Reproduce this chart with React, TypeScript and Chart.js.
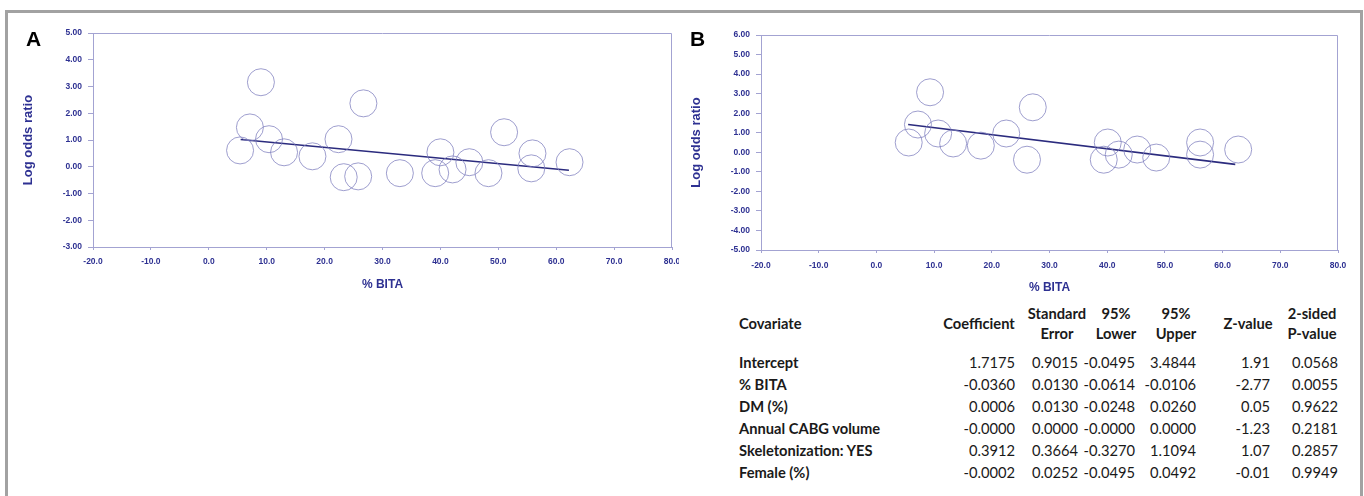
import React, { useEffect, useRef } from "react";
import { Chart, registerables } from "chart.js";

Chart.register(...registerables);

// ---------- DATA ----------
const bitaA = [5.4, 9.0, 7.1, 10.4, 13.0, 17.9, 22.4, 23.3, 25.8, 26.7, 33.0, 39.1, 40.0, 42.1, 45.0, 48.3, 51.0, 55.9, 55.7, 62.3];
const logOrA = [0.61, 3.16, 1.47, 1.03, 0.54, 0.39, 1.03, -0.39, -0.36, 2.37, -0.24, -0.24, 0.54, -0.1, 0.17, -0.24, 1.29, 0.5, -0.06, 0.17];
const fitAX = [5.5, 62.2];
const fitAY = [1.02, -0.13];

const bitaB = [5.6, 9.3, 7.2, 10.7, 13.3, 18.1, 22.5, 27.1, 26.1, 40.1, 39.4, 42.0, 45.2, 48.5, 56.1, 56.1, 62.7];
const logOrB = [0.5, 3.07, 1.42, 0.96, 0.45, 0.34, 0.96, 2.3, -0.38, 0.5, -0.38, -0.12, 0.14, -0.27, 0.5, -0.12, 0.14];
const fitBX = [5.5, 62.2];
const fitBY = [1.42, -0.62];

const xTicks = [-20, -10, 0, 10, 20, 30, 40, 50, 60, 70, 80];
const yTicksA = [-3, -2, -1, 0, 1, 2, 3, 4, 5];
const yTicksB = [-5, -4, -3, -2, -1, 0, 1, 2, 3, 4, 5, 6];

const xTitle = "% BITA";
const yTitle = "Log odds ratio";

const headerLines = [["Coefficient"], ["Standard", "Error"], ["95%", "Lower"], ["95%", "Upper"], ["Z-value"], ["2-sided", "P-value"]];
const covariates = ["Intercept", "% BITA", "DM (%)", "Annual CABG volume", "Skeletonization: YES", "Female (%)"];
const coefficient = ["1.7175", "-0.0360", "0.0006", "-0.0000", "0.3912", "-0.0002"];
const stdError = ["0.9015", "0.0130", "0.0130", "0.0000", "0.3664", "0.0252"];
const lower95 = ["-0.0495", "-0.0614", "-0.0248", "-0.0000", "-0.3270", "-0.0495"];
const upper95 = ["3.4844", "-0.0106", "0.0260", "0.0000", "1.1094", "0.0492"];
const zValue = ["1.91", "-2.77", "0.05", "-1.23", "1.07", "-0.01"];
const pValue = ["0.0568", "0.0055", "0.9622", "0.2181", "0.2857", "0.9949"];

// ---------- STYLE ----------
const AXIS = "#a3a3d2";
const TICK = "#2e3192";
const BUBBLE = "rgba(125,125,190,0.75)";
const FIT = "#2b2b7e";
const FONT = "'Liberation Sans', Arial, sans-serif";

const boxPlugin = {
  id: "plotBox",
  afterDraw(chart: any) {
    const { ctx, chartArea: a } = chart;
    ctx.save();
    ctx.strokeStyle = AXIS;
    ctx.lineWidth = 1;
    ctx.beginPath();
    ctx.moveTo(Math.round(a.left) + 0.5, Math.round(a.top) + 0.5);
    ctx.lineTo(Math.round(a.right) - 0.5, Math.round(a.top) + 0.5);
    ctx.lineTo(Math.round(a.right) - 0.5, Math.round(a.bottom) + 0.5);
    ctx.stroke();
    ctx.restore();
  },
};

type PanelCfg = {
  bx: number[];
  by: number[];
  fx: number[];
  fy: number[];
  yTicks: number[];
  width: number;
  height: number;
  area: { left: number; top: number; right: number; bottom: number };
  yTitlePad: number;
  xTitlePad: number;
  xLabelPad: number;
};

function Panel(p: PanelCfg) {
  const ref = useRef<HTMLCanvasElement>(null);
  useEffect(() => {
    if (!ref.current) return;
    const yMin = Math.min(...p.yTicks);
    const yMax = Math.max(...p.yTicks);
    const chart = new Chart(ref.current, {
      type: "scatter",
      data: {
        datasets: [
          {
            label: "studies",
            data: p.bx.map((x, i) => ({ x, y: p.by[i] })),
            pointRadius: 13.5,
            pointHoverRadius: 13.5,
            pointBackgroundColor: "rgba(0,0,0,0)",
            pointBorderColor: BUBBLE,
            pointBorderWidth: 1,
            showLine: false,
          },
          {
            label: "fit",
            data: p.fx.map((x, i) => ({ x, y: p.fy[i] })),
            showLine: true,
            borderColor: FIT,
            borderWidth: 1.6,
            pointRadius: 0,
          },
        ],
      },
      options: {
        animation: false,
        responsive: false,
        events: [],
        layout: {
          padding: {
            left: 0,
            top: p.area.top,
            right: p.width - p.area.right,
            bottom: 0,
          },
        },
        plugins: { legend: { display: false }, tooltip: { enabled: false } },
        scales: {
          x: {
            type: "linear",
            min: xTicks[0],
            max: xTicks[xTicks.length - 1],
            afterBuildTicks: (s: any) => {
              s.ticks = xTicks.map((v) => ({ value: v }));
            },
            afterFit: (s: any) => {
              s.height = p.height - p.area.bottom;
              s.paddingLeft = 0;
              s.paddingRight = 0;
            },
            ticks: {
              color: TICK,
              font: { family: FONT, size: 8.5, weight: "bold" },
              padding: p.xLabelPad,
              maxRotation: 0,
              autoSkip: false,
              callback: (v: any) => Number(v).toFixed(1),
            },
            grid: { drawOnChartArea: false, color: AXIS, tickLength: 3, lineWidth: 1 },
            border: { color: AXIS, width: 1 },
            title: {
              display: true,
              text: xTitle,
              color: TICK,
              font: { family: FONT, size: 12, weight: "bold" },
              padding: { top: 0, bottom: p.xTitlePad },
            },
          },
          y: {
            type: "linear",
            min: yMin,
            max: yMax,
            afterBuildTicks: (s: any) => {
              s.ticks = p.yTicks.map((v) => ({ value: v }));
            },
            afterFit: (s: any) => {
              s.width = p.area.left;
              s.paddingTop = 0;
              s.paddingBottom = 0;
            },
            ticks: {
              color: TICK,
              font: { family: FONT, size: 8.5, weight: "bold" },
              padding: 6,
              autoSkip: false,
              callback: (v: any) => Number(v).toFixed(2),
            },
            grid: { drawOnChartArea: false, color: AXIS, tickLength: 5, lineWidth: 1 },
            border: { color: AXIS, width: 1 },
            title: {
              display: true,
              text: yTitle,
              color: TICK,
              font: { family: FONT, size: 13, weight: "bold" },
              padding: { top: p.yTitlePad, bottom: 0 },
            },
          },
        },
      },
      plugins: [boxPlugin],
    } as any);
    return () => chart.destroy();
  }, []);
  return <canvas ref={ref} width={p.width} height={p.height} style={{ display: "block", width: p.width, height: p.height }} />;
}

const TABLE_FONT = "Lato, 'Open Sans', sans-serif";
const TABLE_SIZE = "14.7px";
const colRight = [1015, 1078, 1135, 1196, 1270, 1338];
const headCenter = [979, 1057, 1116, 1176, 1248, 1312];
const rowY = [362, 384, 406, 428, 450, 472];

export default function App() {
  const cols = [coefficient, stdError, lower95, upper95, zValue, pValue];
  return (
    <div
      style={{
        position: "fixed",
        left: 0,
        top: 0,
        width: 1364,
        height: 496,
        overflow: "hidden",
        background: "#fff",
      }}
    >
      <div
        style={{
          position: "absolute",
          left: 5,
          top: 10,
          width: 1358,
          height: 520,
          boxSizing: "border-box",
          border: "3px solid #a2a2a2",
        }}
      />
      <div style={{ position: "absolute", left: 0, top: 0, width: 679, height: 300, overflow: "hidden" }}>
        <Panel
          bx={bitaA}
          by={logOrA}
          fx={fitAX}
          fy={fitAY}
          yTicks={yTicksA}
          width={690}
          height={300}
          area={{ left: 93, top: 33, right: 672, bottom: 247 }}
          yTitlePad={21}
          xTitlePad={8}
          xLabelPad={7}
        />
      </div>
      <div style={{ position: "absolute", left: 680, top: 0, width: 684, height: 300 }}>
        <Panel
          bx={bitaB}
          by={logOrB}
          fx={fitBX}
          fy={fitBY}
          yTicks={yTicksB}
          width={684}
          height={300}
          area={{ left: 81, top: 35, right: 658, bottom: 250 }}
          yTitlePad={9}
          xTitlePad={5}
          xLabelPad={8}
        />
      </div>
      <div style={{ position: "absolute", left: 26, top: 28, font: `bold 21px ${FONT}`, lineHeight: "22px", color: "#000" }}>A</div>
      <div style={{ position: "absolute", left: 690, top: 28, font: `bold 21px ${FONT}`, lineHeight: "22px", color: "#000" }}>B</div>

      {/* Table */}
      <div style={{ position: "absolute", left: 739, top: 323 - 9, font: `bold ${TABLE_SIZE} ${TABLE_FONT}`, lineHeight: "18px", color: "#1a1a1a" }}>
        Covariate
      </div>
      {headerLines.map((lines, j) => (
        <div
          key={"h" + j}
          style={{
            position: "absolute",
            left: headCenter[j] - 50,
            width: 100,
            textAlign: "center",
            top: (lines.length === 1 ? 323 : 323 - 10) - 10,
            font: `bold ${TABLE_SIZE} ${TABLE_FONT}`,
            lineHeight: "20px",
            color: "#1a1a1a",
            whiteSpace: "nowrap",
          }}
        >
          {lines.map((l, k) => (
            <div key={k}>{l}</div>
          ))}
        </div>
      ))}
      {covariates.map((c, i) => (
        <React.Fragment key={"r" + i}>
          <div style={{ position: "absolute", left: 739, top: rowY[i] - 9, font: `bold ${TABLE_SIZE} ${TABLE_FONT}`, lineHeight: "18px", color: "#1a1a1a", whiteSpace: "nowrap" }}>
            {c}
          </div>
          {cols.map((col, j) => (
            <div
              key={j}
              style={{
                position: "absolute",
                right: 1364 - colRight[j],
                top: rowY[i] - 9,
                font: `${TABLE_SIZE} ${TABLE_FONT}`,
                lineHeight: "18px",
                color: "#1a1a1a",
                whiteSpace: "nowrap",
                textAlign: "right",
              }}
            >
              {col[i]}
            </div>
          ))}
        </React.Fragment>
      ))}
    </div>
  );
}
